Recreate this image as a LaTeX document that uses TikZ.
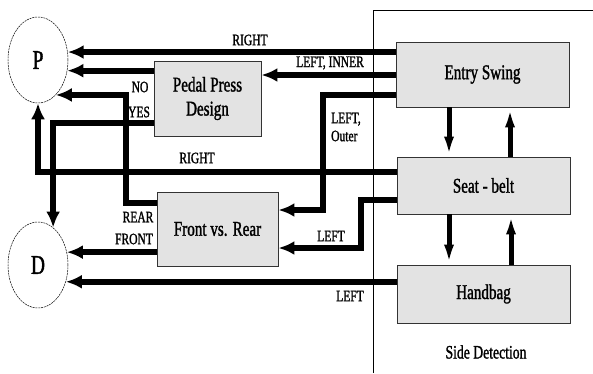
\documentclass[tikz,border=0pt]{standalone}
\usepackage{fontspec}
\setmainfont[FakeStretch=0.72,UprightFeatures={FakeBold=1.3}]{Liberation Serif}
\usetikzlibrary{shapes.geometric,arrows.meta}
\definecolor{boxfill}{HTML}{E3E3E3}
\begin{document}
\begin{tikzpicture}[x=1pt,y=-1pt,
  blk/.style={draw=black!80,line width=0.9pt,fill=boxfill,inner sep=0pt,align=center,font=\fontsize{21}{24}\selectfont},
  circ/.style={ellipse,draw,line width=0.5pt,dash pattern=on 2pt off 0.8pt,minimum width=60,minimum height=86,inner sep=0pt,font=\fontsize{27}{28}\selectfont},
  conn/.style={line width=6pt,-{Latex[length=16pt,width=14pt]}},
  vconn/.style={line width=5pt,-{Latex[length=20pt,width=10pt]}},
  lbl/.style={font=\fontsize{16}{18}\selectfont,inner sep=0pt,align=left}]
\useasboundingbox (0,0) rectangle (593,373);
% frame
\draw[line width=0.9pt] (373,373) -- (373,10) -- (593,10);
\node[font=\fontsize{19}{21}\selectfont] (sd) at (486,352) {Side Detection};
% round nodes
\node[circ] (P) at (38,60) {P};
\node[circ] (D) at (38,265) {D};
% boxes
\node[blk,minimum width=107,minimum height=75] (pp) at (207.5,98.5) {Pedal Press\\Design};
\node[blk,minimum width=173,minimum height=65] (es) at (482.5,74.5) {Entry Swing};
\node[blk,minimum width=173,minimum height=57] (sb) at (483.5,185.5) {Seat - belt};
\node[blk,minimum width=173,minimum height=58] (hb) at (483.5,294) {Handbag};
\node[blk,minimum width=121,minimum height=74] (fr) at (217.5,229) {Front vs. Rear};
% connectors
\draw[conn] (es.west |- P.15) -- (P.15);
\draw[conn] (es.west |- 0,75) -- (pp.east |- 0,75);
\draw[conn] (pp.west |- P.-20.8) -- (P.-20.8);
\draw[conn] (pp.west |- 0,123) -| (D.68);
\draw[conn] (fr.west |- 0,203) -| (126,150) |- (P.-63.6);
\draw[conn] (sb.west |- 0,172) -| (P.south);
\draw[conn] (es.west |- 0,95) -| (323,150) |- (fr.east |- 0,210);
\draw[conn] (sb.west |- 0,200) -| (361,230) |- (fr.east |- 0,248);
\draw[conn] (fr.west |- D.24.4) -- (D.24.4);
\draw[conn] (hb.west |- D.-31.7) -- (D.-31.7);
% vertical arrows
\draw[vconn] (es.south -| 449,0) -- (sb.north -| 449,0);
\draw[vconn] (sb.north -| 510,0) -- (es.south -| 510,0);
\draw[vconn] (sb.south -| 449,0) -- (hb.north -| 449,0);
\draw[vconn] (hb.north -| 511,0) -- (sb.south -| 511,0);
% labels
\node[lbl] (l1) at (250,40) {RIGHT};
\node[lbl] (l2) at (330,63) {LEFT, INNER};
\node[lbl] (l3) at (140,87) {NO};
\node[lbl] (l4) at (139,112) {YES};
\node[lbl] (l5) at (197,158) {RIGHT};
\node[lbl,anchor=west] (l6) at (331,127) {LEFT,\\Outer};
\node[lbl] (l7) at (138,217) {REAR};
\node[lbl] (l8) at (134,239) {FRONT};
\node[lbl] (l9) at (331,236) {LEFT};
\node[lbl] (l10) at (350,296) {LEFT};
\end{tikzpicture}
\end{document}
